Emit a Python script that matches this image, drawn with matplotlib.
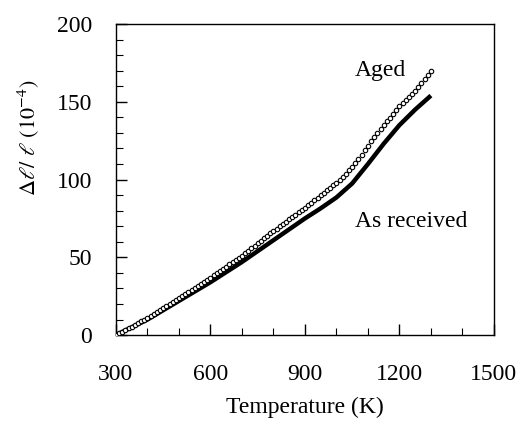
import numpy as np
import matplotlib
matplotlib.use('Agg')
import matplotlib.pyplot as plt
from matplotlib.ticker import MultipleLocator

plt.rcParams['font.family'] = ['Liberation Serif', 'DejaVu Serif']
plt.rcParams['mathtext.fontset'] = 'stix'

# aged sample, read every 10 K
aged_T = list(range(300, 1301, 10))
aged_dl = [0, 1.1, 2.2, 3.3, 4.4, 5.5, 6.6, 7.7, 8.8, 9.9,
           11, 12.3, 13.6, 14.9, 16.2, 17.5, 18.8, 20.1, 21.4, 22.7,
           24, 25.3, 26.6, 27.9, 29.2, 30.5, 31.8, 33.1, 34.4, 35.7,
           37, 38.4, 39.8, 41.2, 42.6, 44, 45.4, 46.8, 48.2, 49.6,
           51, 52.6, 54.2, 55.8, 57.4, 59, 60.6, 62.2, 63.8, 65.4,
           67, 68.5, 70, 71.5, 73, 74.5, 76, 77.5, 79, 80.5,
           82, 83.6, 85.2, 86.8, 88.4, 90, 91.6, 93.2, 94.8, 96.4,
           98, 99.8, 101.7, 103.7, 105.9, 108.2, 110.7, 113.3, 116, 118.9,
           121.8, 124.6, 127.3, 130, 132.5, 135, 137.4, 139.8, 142.2, 144.6,
           147, 149, 151, 153, 155, 157, 159.6, 162.2, 164.8, 167.4,
           170]

# as received sample
recv_T = [300, 400, 500, 600, 700, 800, 900, 950, 1000, 1050, 1100, 1150, 1200, 1250, 1300]
recv_dl = [0, 10, 22, 34, 47, 61, 75, 81.5, 88.5, 97.5, 110, 123, 135, 145, 154]

fig = plt.figure(figsize=(5.21, 4.22), dpi=100)
ax = fig.add_axes([0.2226, 0.206, 0.7254, 0.737])

ax.plot(recv_T, recv_dl, color='black', lw=3.2, solid_capstyle='butt', zorder=2)
ax.plot(aged_T, aged_dl, ls='none', marker='o', ms=3.2, mfc='white', mec='black',
        mew=0.8, zorder=3)

ax.set_xlim(300, 1500)
ax.set_ylim(0, 200)
ax.xaxis.set_major_locator(MultipleLocator(300))
ax.xaxis.set_minor_locator(MultipleLocator(100))
ax.yaxis.set_major_locator(MultipleLocator(50))
ax.yaxis.set_minor_locator(MultipleLocator(10))
ax.tick_params(which='both', direction='in', top=False, right=False, labelsize=17)
ax.tick_params(which='major', length=8, width=1)
ax.tick_params(which='minor', length=5, width=0.8)
ax.tick_params(axis='x', which='major', pad=21)
ax.tick_params(axis='y', which='major', pad=17)

ax.text(1140, 170, 'Aged', fontsize=17, ha='center', va='center')
ax.text(1238, 73, 'As received', fontsize=17, ha='center', va='center')

ax.set_xlabel('Temperature (K)', fontsize=17)
ax.set_ylabel(r'$\Delta\ell/\ \ell\ (10^{-4})$', fontsize=16)
ax.yaxis.set_label_coords(-0.196, 0.633)
ax.xaxis.set_label_coords(0.5, -0.2)

for s in ax.spines.values():
    s.set_linewidth(1.0)

fig.savefig('out.png', dpi=100)
